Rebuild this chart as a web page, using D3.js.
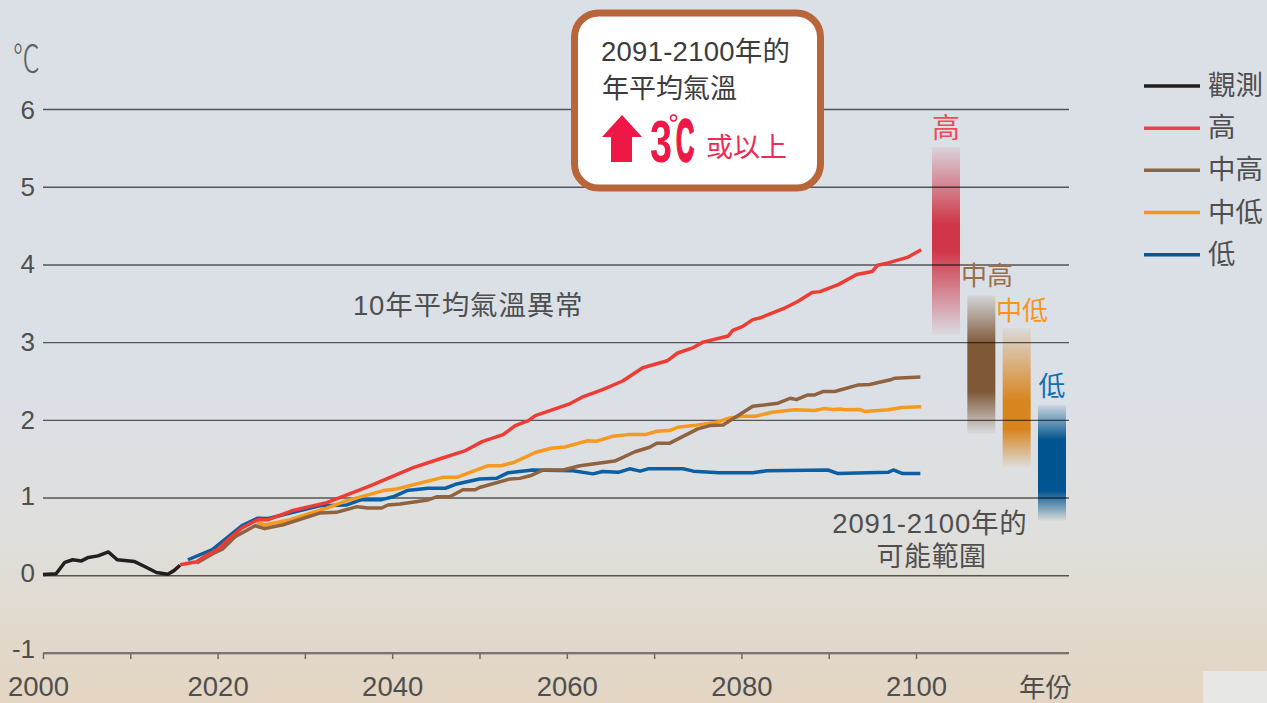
<!DOCTYPE html>
<html>
<head>
<meta charset="utf-8">
<script src="https://cdnjs.cloudflare.com/ajax/libs/d3/7.8.5/d3.min.js"></script>
<style>
    html, body { margin: 0; padding: 0; overflow: hidden; }
    svg { display: block; }
    text { font-family: "Liberation Sans", "Noto Sans CJK TC", sans-serif; }
</style>
</head>
<body>
<div id="chart"></div>
<script>
// values, at the vertices of each line
var observedYears = [2000, 2001.5, 2002.5, 2003.4, 2004.4, 2005.2, 2006.3, 2007.5, 2008.5, 2010.5, 2011.7, 2013, 2014.3, 2015, 2015.7];
var observedValues = [0.01, 0.02, 0.167, 0.2, 0.185, 0.23, 0.25, 0.3, 0.2, 0.176, 0.11, 0.035, 0.013, 0.06, 0.13];

var highYears = [2015.7, 2017.6, 2018.6, 2020, 2021.4, 2022.8, 2024.6, 2025.8, 2028.5, 2032.5, 2036.3, 2037.8, 2039.7, 2042.4, 2045.5, 2048.3, 2050.3, 2052.7, 2054.1, 2055.6, 2056.4, 2060.4, 2061.9, 2064.1, 2066.4, 2068.7, 2071.5, 2072.7, 2074.5, 2075.6, 2078.5, 2079, 2080.1, 2081.3, 2082.1, 2084.8, 2086.4, 2088.1, 2089, 2091.1, 2093.2, 2095, 2095.6, 2096.8, 2099, 2100.6];
var highValues = [0.135, 0.174, 0.25, 0.33, 0.48, 0.61, 0.715, 0.715, 0.83, 0.935, 1.1, 1.166, 1.256, 1.385, 1.5, 1.6, 1.72, 1.81, 1.925, 1.99, 2.055, 2.21, 2.3, 2.39, 2.5, 2.67, 2.76, 2.86, 2.93, 3.0, 3.08, 3.15, 3.2, 3.29, 3.31, 3.43, 3.52, 3.64, 3.65, 3.74, 3.87, 3.91, 3.99, 4.02, 4.09, 4.19];

var midHighYears = [2017.6, 2019.5, 2020.6, 2022, 2024.3, 2025.4, 2027.5, 2031.7, 2033.6, 2036, 2037.2, 2038.8, 2039.5, 2040.9, 2044.1, 2045.1, 2046.6, 2048.1, 2049.5, 2050, 2053.5, 2054.6, 2055.8, 2057.3, 2059.6, 2061.5, 2065.5, 2067.8, 2069.5, 2070.3, 2071.8, 2075, 2076.4, 2077.9, 2081.3, 2084.2, 2085.6, 2086.3, 2087.6, 2088.4, 2089.4, 2090.7, 2093.4, 2094.7, 2097.2, 2097.6, 2100.5];
var midHighValues = [0.16, 0.28, 0.34, 0.495, 0.638, 0.6, 0.65, 0.8, 0.81, 0.883, 0.866, 0.866, 0.905, 0.917, 0.97, 1.01, 1.01, 1.1, 1.1, 1.13, 1.24, 1.247, 1.28, 1.355, 1.355, 1.41, 1.47, 1.59, 1.647, 1.7, 1.7, 1.884, 1.926, 1.935, 2.175, 2.214, 2.278, 2.26, 2.32, 2.32, 2.365, 2.365, 2.45, 2.455, 2.52, 2.536, 2.55];

var midLowYears = [2024.5, 2025.4, 2028.3, 2032.5, 2034.8, 2039, 2040.5, 2045.8, 2047.4, 2050, 2051, 2052.5, 2054, 2056.4, 2058.2, 2059.8, 2062.3, 2063.4, 2065.3, 2067, 2069, 2070.3, 2071.8, 2072.7, 2074.5, 2077.3, 2078.5, 2080, 2081.6, 2083.5, 2086.1, 2088.4, 2089.4, 2090.5, 2091.3, 2091.9, 2093.6, 2094.2, 2096.8, 2098.4, 2100.6];
var midLowValues = [0.68, 0.647, 0.715, 0.865, 0.96, 1.09, 1.11, 1.26, 1.26, 1.37, 1.41, 1.41, 1.455, 1.58, 1.635, 1.65, 1.73, 1.725, 1.79, 1.81, 1.81, 1.853, 1.862, 1.905, 1.926, 1.974, 2.02, 2.046, 2.046, 2.098, 2.13, 2.12, 2.145, 2.133, 2.14, 2.13, 2.133, 2.107, 2.13, 2.16, 2.17];

var lowYears = [2016.6, 2019.4, 2022.8, 2024.6, 2025.8, 2028.3, 2031.7, 2034.8, 2036.5, 2038.8, 2040.1, 2041.7, 2044.1, 2046.1, 2047.4, 2050, 2052, 2053.3, 2056.1, 2060.7, 2063, 2064.1, 2065.9, 2067.2, 2068.4, 2069.3, 2073.3, 2074.5, 2077.5, 2081.3, 2082.9, 2089.9, 2091, 2096.8, 2097.4, 2098.4, 2100.5];
var lowValues = [0.2, 0.33, 0.64, 0.735, 0.73, 0.8, 0.895, 0.905, 0.973, 0.973, 1.01, 1.09, 1.12, 1.12, 1.175, 1.24, 1.25, 1.32, 1.355, 1.345, 1.305, 1.335, 1.325, 1.37, 1.34, 1.37, 1.37, 1.34, 1.32, 1.32, 1.345, 1.355, 1.31, 1.325, 1.355, 1.31, 1.31];

// likely range 2091-2100
var rangeNames = ["高", "中高", "中低", "低"];
var rangeTop = [5.51, 3.6, 3.18, 2.19];
var rangeBottom = [3.09, 1.82, 1.39, 0.7];
var rangeColors = ["#cf3647", "#7e5736", "#d9851f", "#00548f"];
var rangeLabelColors = ["#ef4a5e", "#9a6e4a", "#f7941d", "#0f6fb0"];

var legendNames = ["觀測", "高", "中高", "中低", "低"];
var legendColors = ["#231f20", "#ee3f56", "#8f6340", "#f7941d", "#00589c"];

var yTicks = [-1, 0, 1, 2, 3, 4, 5, 6];
var xTicks = [2000, 2010, 2020, 2030, 2040, 2050, 2060, 2070, 2080, 2090, 2100];
var xLabels = [2000, 2020, 2040, 2060, 2080, 2100];

function init() {
    var w = 1267;
    var h = 703;
    var textColor = "#4f4f4f";

    var svg = d3.select("#chart")
                .append("svg")
                .attr("width", w)
                .attr("height", h);

    var defs = svg.append("defs");

    // page background, blue-grey fading to sand
    var bg = defs.append("linearGradient")
                 .attr("id", "bg")
                 .attr("x1", 0).attr("x2", 0).attr("y1", 0).attr("y2", 1);
    bg.append("stop").attr("offset", "0.55").attr("stop-color", "#dbe0e7");
    bg.append("stop").attr("offset", "0.76").attr("stop-color", "#dfdfdc");
    bg.append("stop").attr("offset", "1").attr("stop-color", "#e3d5c2");

    svg.append("rect")
       .attr("width", w)
       .attr("height", h)
       .attr("fill", "url(#bg)");
    svg.append("rect")
       .attr("x", 1203).attr("y", 671)
       .attr("width", 64).attr("height", 32)
       .attr("fill", "#e7e8e6");

    // setup scales
    var xScale = d3.scaleLinear().domain([2000, 2100]).range([43, 916]);
    var yScale = d3.scaleLinear().domain([-1, 6]).range([653, 109]);
    var rangeScale = d3.scaleBand().domain(rangeNames).range([932, 1066]).paddingInner(0.207);

    // range bars, drawn under the grid. each one is solid over a different stretch
    var solidFrom = [0.41, 0.36, 0.52, 0.3];
    var solidTo = [0.55, 0.69, 0.73, 0.74];
    rangeNames.forEach(function(name, i) {
        var g = defs.append("linearGradient")
                    .attr("id", "range" + i)
                    .attr("x1", 0).attr("x2", 0).attr("y1", 0).attr("y2", 1);
        g.append("stop").attr("offset", "0").attr("stop-color", rangeColors[i]).attr("stop-opacity", 0.08);
        g.append("stop").attr("offset", solidFrom[i]).attr("stop-color", rangeColors[i]).attr("stop-opacity", 1);
        g.append("stop").attr("offset", solidTo[i]).attr("stop-color", rangeColors[i]).attr("stop-opacity", 1);
        g.append("stop").attr("offset", "1").attr("stop-color", rangeColors[i]).attr("stop-opacity", 0.03);
    });
    svg.selectAll(".range")
       .data(rangeNames)
       .enter()
       .append("rect")
       .attr("class", "range")
       .attr("x", function(d) { return rangeScale(d); })
       .attr("width", rangeScale.bandwidth())
       .attr("y", function(d, i) { return yScale(rangeTop[i]); })
       .attr("height", function(d, i) { return yScale(rangeBottom[i]) - yScale(rangeTop[i]); })
       .attr("fill", function(d, i) { return "url(#range" + i + ")"; });

    // y axis with full width grid lines
    var yAxis = d3.axisLeft(yScale)
                  .tickValues(yTicks)
                  .tickSize(-(1069 - 43))
                  .tickPadding(8)
                  .tickFormat(d3.format("d"));
    var gy = svg.append("g")
                .attr("transform", "translate(43,0)")
                .call(yAxis);
    gy.select(".domain").remove();
    gy.selectAll("line")
      .attr("stroke", "#000")
      .attr("stroke-opacity", 0.62)
      .attr("stroke-width", 1.4);
    // the lower labels sit a little above their lines
    gy.selectAll("text")
      .attr("font-size", 26)
      .attr("fill", textColor)
      .attr("y", function(d) { return d < 2 ? (d - 2) * 1.2 : (d == 6 ? 1 : 0); })
      .text(function(d) { return d; });

    // x axis sits on the -1 line
    var xAxis = d3.axisBottom(xScale)
                  .tickValues(xTicks)
                  .tickSize(6)
                  .tickPadding(17)
                  .tickFormat(function(d) { return xLabels.indexOf(d) >= 0 ? d : ""; });
    var gx = svg.append("g")
                .attr("transform", "translate(0," + yScale(-1) + ")")
                .call(xAxis);
    gx.select(".domain").remove();
    gx.selectAll("line")
      .attr("stroke", "#6f6a64")
      .attr("stroke-width", 1.5);
    gx.selectAll("text")
      .attr("font-size", 27.5)
      .attr("fill", textColor);
    gx.selectAll(".tick")
      .filter(function(d) { return d === 2000; })
      .select("text")
      .attr("dx", -5);
    svg.append("line")
       .attr("x1", 43).attr("x2", 1069)
       .attr("y1", yScale(-1)).attr("y2", yScale(-1))
       .attr("stroke", "#7a7570")
       .attr("stroke-width", 2);

    // generate lines, drawn in the order they stack in the picture
    var line = d3.line()
                 .x(function(d) { return xScale(d[0]); })
                 .y(function(d) { return yScale(d[1]); });
    var series = [
        { years: observedYears, values: observedValues, color: "#231f20" },
        { years: lowYears, values: lowValues, color: "#0b5fa5" },
        { years: midLowYears, values: midLowValues, color: "#f7981f" },
        { years: midHighYears, values: midHighValues, color: "#8f6340" },
        { years: highYears, values: highValues, color: "#ef3b33" }
    ];
    svg.selectAll(".series")
       .data(series)
       .enter()
       .append("path")
       .attr("class", "series")
       .attr("fill", "none")
       .attr("stroke", function(d) { return d.color; })
       .attr("stroke-width", 3.5)
       .attr("stroke-linejoin", "round")
       .attr("d", function(d) { return line(d3.zip(d.years, d.values)); });

    // labels over the range bars
    var rangeLabels = [[946, 138, 28], [987, 285, 26], [1022, 320, 26], [1052, 396, 27]];
    svg.selectAll(".rangeLabel")
       .data(rangeNames)
       .enter()
       .append("text")
       .attr("class", "rangeLabel")
       .attr("text-anchor", "middle")
       .attr("x", function(d, i) { return rangeLabels[i][0]; })
       .attr("y", function(d, i) { return rangeLabels[i][1]; })
       .attr("font-size", function(d, i) { return rangeLabels[i][2]; })
       .attr("fill", function(d, i) { return rangeLabelColors[i]; })
       .text(function(d) { return d; });

    // unit and notes
    svg.append("text")
       .attr("transform", "translate(13,72) scale(0.84,1.18)")
       .attr("font-size", 32).attr("font-weight", 300).attr("fill", "#5c6066").text("℃");
    svg.append("text").attr("x", 353).attr("y", 315)
       .attr("font-size", 27.5).attr("letter-spacing", 0.8).attr("fill", textColor).text("10年平均氣溫異常");
    svg.append("text").attr("x", 930).attr("y", 533).attr("text-anchor", "middle")
       .attr("font-size", 27.5).attr("letter-spacing", 0.8).attr("fill", textColor).text("2091-2100年的");
    svg.append("text").attr("x", 931.5).attr("y", 566).attr("text-anchor", "middle")
       .attr("font-size", 27).attr("letter-spacing", 0.5).attr("fill", textColor).text("可能範圍");
    svg.append("text").attr("x", 1019).attr("y", 697)
       .attr("font-size", 26.5).attr("fill", textColor).text("年份");

    // legend
    var legendY = d3.scalePoint().domain(legendNames).range([86, 254.7]);
    var legend = svg.selectAll(".legend")
                    .data(legendNames)
                    .enter()
                    .append("g")
                    .attr("class", "legend")
                    .attr("transform", function(d) { return "translate(0," + legendY(d) + ")"; });
    legend.append("line")
          .attr("x1", 1144).attr("x2", 1200)
          .attr("stroke", function(d, i) { return legendColors[i]; })
          .attr("stroke-width", 3.5);
    legend.append("text")
          .attr("x", 1208).attr("y", 9)
          .attr("font-size", 27.5)
          .attr("fill", textColor)
          .text(function(d) { return d; });

    // call-out box
    svg.append("rect")
       .attr("x", 574.5).attr("y", 13)
       .attr("width", 246).attr("height", 175)
       .attr("rx", 24)
       .attr("fill", "#fff")
       .attr("stroke", "#b9653a")
       .attr("stroke-width", 7);
    svg.append("text").attr("x", 601).attr("y", 61)
       .attr("font-size", 27.5).attr("letter-spacing", 0.25).attr("fill", "#3c3c3c").text("2091-2100年的");
    svg.append("text").attr("x", 602).attr("y", 98)
       .attr("font-size", 27).attr("fill", "#3c3c3c").text("年平均氣溫");
    svg.append("path")
       .attr("d", "M622,115L642,137L632,137L632,162L611,162L611,137L602,137Z")
       .attr("fill", "#ee1746");
    svg.append("text")
       .attr("transform", "translate(650,162) scale(0.66,1)")
       .attr("font-size", 60).attr("font-weight", 700).attr("fill", "#ee1746").text("3");
    svg.append("text")
       .attr("transform", "translate(676,161) scale(0.42,1)")
       .attr("font-size", 60).attr("font-weight", 700).attr("fill", "#ee1746")
       .attr("stroke", "#ee1746").attr("stroke-width", 2.5).text("C");
    svg.append("circle")
       .attr("cx", 673.5).attr("cy", 118).attr("r", 3)
       .attr("fill", "none").attr("stroke", "#ee1746").attr("stroke-width", 1.4);
    svg.append("text").attr("x", 706).attr("y", 157)
       .attr("font-size", 27).attr("fill", "#ee2a55").text("或以上");
}
window.onload = init;
</script>
</body>
</html>
